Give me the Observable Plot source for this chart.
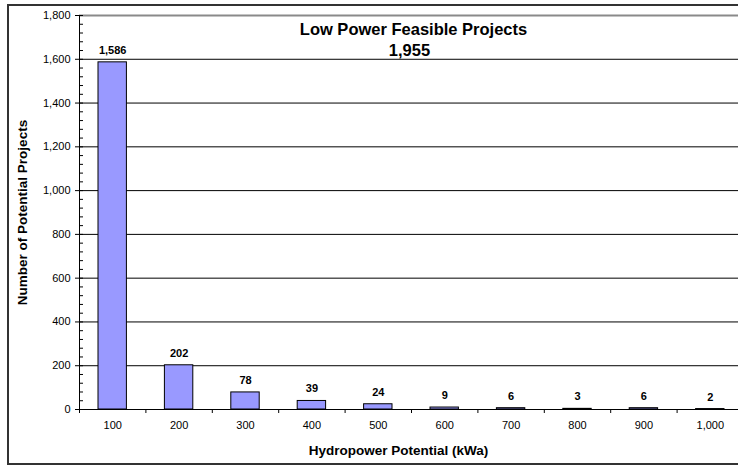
<!DOCTYPE html>
<html>
<head>
<meta charset="utf-8">
<script src="https://cdn.jsdelivr.net/npm/d3@7"></script>
<script src="https://cdn.jsdelivr.net/npm/@observablehq/plot@0.6"></script>
<style>
  html, body { margin: 0; background: #fff; overflow: hidden; }
  #wrap { position: relative; width: 738px; height: 465px; overflow: hidden; background: #fff; }
  #wrap svg { position: absolute; left: 0; top: 0; overflow: visible; }
  #border { position: absolute; left: 7px; top: 4px; width: 780px; height: 457px; border: 2px solid #333; pointer-events: none; }
</style>
</head>
<body>
<div id="wrap"><div id="border"></div></div>
<script>
// ---- data ----
const categories = [100, 200, 300, 400, 500, 600, 700, 800, 900, 1000];
const counts = [1586, 202, 78, 39, 24, 9, 6, 3, 6, 2];
const xTickLabels = ["100", "200", "300", "400", "500", "600", "700", "800", "900", "1,000"];
const yTicks = [0, 200, 400, 600, 800, 1000, 1200, 1400, 1600, 1800];
const binEdges = [50, 150, 250, 350, 450, 550, 650, 750, 850, 950, 1050];
const titleLines = ["Low Power Feasible Projects", "1,955"];
const xTitle = "Hydropower Potential (kWa)";
const yTitle = "Number of Potential Projects";

const binHalf = 50;
const data = categories.map((c, i) => ({kwa: c, count: counts[i]}));
const fmt = d3.format(",");
const minorTicks = d3.range(0, 1801, 40);
const FONT = "'Liberation Sans', Arial, sans-serif";

const chart = Plot.plot({
  width: 738,
  height: 465,
  marginLeft: 79,
  marginRight: -5,
  marginTop: 15,
  marginBottom: 56,
  style: {fontFamily: FONT, background: "transparent", color: "#000"},
  x: {type: "linear", domain: [binEdges[0], binEdges[binEdges.length - 1]]},
  y: {domain: [0, 1800]},
  marks: [
    Plot.gridY(yTicks.filter(d => d > 0 && d < 1800), {stroke: "#000", strokeOpacity: 1}),
    Plot.gridY([1800], {stroke: "#8a8a8a", strokeOpacity: 1, strokeWidth: 2}),
    Plot.rectY(data, {
      x1: d => d.kwa - binHalf, x2: d => d.kwa + binHalf, y: "count",
      insetLeft: 19, insetRight: 19,
      fill: "#9999ff", stroke: "#000", strokeWidth: 1
    }),
    Plot.ruleY([0], {stroke: "#000"}),
    Plot.ruleX([binEdges[0]], {stroke: "#000"}),
    Plot.axisY(yTicks, {tickSize: 4, tickPadding: 5, tickFormat: fmt, fontSize: 11, label: null, stroke: "#000"}),
    Plot.axisY(minorTicks, {tickSize: -4, tickFormat: () => "", label: null, stroke: "#000"}),
    Plot.axisX(binEdges, {tickSize: 4, tickFormat: () => "", label: null, stroke: "#000"}),
    Plot.axisX(categories, {tickSize: 0, tickPadding: 12, tickFormat: d => xTickLabels[categories.indexOf(d)], fontSize: 11, label: null}),
    Plot.text(data, {
      x: "kwa", y: "count", text: d => fmt(d.count), dy: -12,
      fontWeight: "bold", fontSize: 11, fill: "#000"
    }),
    Plot.text([titleLines[0]], {frameAnchor: "top", lineAnchor: "middle", textAnchor: "middle", dy: 14, dx: 2, fontSize: 16.5, fontWeight: "bold", fill: "#000"}),
    Plot.text([titleLines[1]], {frameAnchor: "top", lineAnchor: "middle", textAnchor: "middle", dy: 35.5, dx: -2, fontSize: 16.5, fontWeight: "bold", fill: "#000"}),
    Plot.text([xTitle], {frameAnchor: "bottom", lineAnchor: "middle", textAnchor: "middle", dy: 41, dx: -13, fontSize: 13.5, fontWeight: "bold", fill: "#000"}),
    Plot.text([yTitle], {frameAnchor: "left", lineAnchor: "middle", textAnchor: "middle", rotate: -90, dx: -57, fontSize: 13.5, fontWeight: "bold", fill: "#000"})
  ]
});
document.getElementById("wrap").insertBefore(chart, document.getElementById("border"));
</script>
</body>
</html>
